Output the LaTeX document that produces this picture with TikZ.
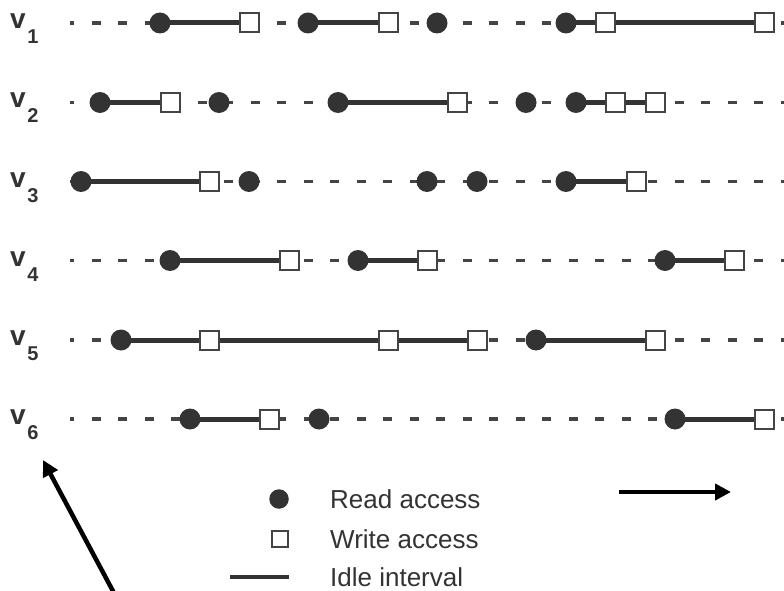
\documentclass[tikz,border=0pt]{standalone}
\usepackage{fontspec}
\setmainfont{Liberation Sans}
\usetikzlibrary{arrows.meta,backgrounds}
\definecolor{ink}{HTML}{333333}
\definecolor{rule}{HTML}{444444}
% variable name with a large, lowered index
\newcommand{\varname}[1]{{\fontsize{28}{28}\selectfont\bfseries v}\kern1.5pt\raisebox{-15pt}{\fontsize{20}{20}\selectfont\bfseries #1}}

\begin{document}
\begin{tikzpicture}[x=1pt,y=-1pt,
  rd/.style={circle,fill=ink,inner sep=0pt,minimum size=21pt},
  wr/.style={rectangle,draw=rule,line width=2pt,fill=white,inner sep=0pt,minimum size=19pt},
  idle/.style={draw=ink,line width=5pt},
  timeline/.style={draw=rule,line width=3.2pt,dash pattern=on 9pt off 17.5pt,dash phase=4.7pt},
  varlabel/.style={anchor=base west,inner sep=0pt,text=ink},
  legtext/.style={anchor=base west,inner sep=0pt,text=ink,font=\fontsize{26}{26}\selectfont},
  bigarrow/.style={draw=black,line width=4.5pt,-{Triangle[length=16pt,width=16pt]}}
]
\useasboundingbox (0,0) rectangle (784,591);

% ---- row labels
\node[varlabel] (v1) at (10,28.5)  {\varname{1}};
\node[varlabel] (v2) at (10,108)   {\varname{2}};
\node[varlabel] (v3) at (10,187)   {\varname{3}};
\node[varlabel] (v4) at (10,266)   {\varname{4}};
\node[varlabel] (v5) at (10,345.5) {\varname{5}};
\node[varlabel] (v6) at (10,424.5) {\varname{6}};

% ---- row v1
\coordinate (a0) at (70,23); \coordinate (a9) at (784,23);
\node[rd] (a1) at (160,23) {};
\node[wr] (a2) at (249,23) {};
\node[rd] (a3) at (308,23) {};
\node[wr] (a4) at (388,23) {};
\node[rd] (a5) at (437,23) {};
\node[rd] (a6) at (566,23) {};
\node[wr] (a7) at (605,23) {};
\node[wr] (a8) at (764,23) {};

% ---- row v2
\coordinate (b0) at (70,102.5); \coordinate (b10) at (784,102.5);
\node[rd] (b1) at (100,102.5) {};
\node[wr] (b2) at (170,102.5) {};
\node[rd] (b3) at (219,102.5) {};
\node[rd] (b4) at (338,102.5) {};
\node[wr] (b5) at (457,102.5) {};
\node[rd] (b6) at (526,102.5) {};
\node[rd] (b7) at (576,102.5) {};
\node[wr] (b8) at (615,102.5) {};
\node[wr] (b9) at (655,102.5) {};

% ---- row v3
\coordinate (c0) at (70,181.5); \coordinate (c8) at (784,181.5);
\node[rd] (c1) at (81,181.5) {};
\node[wr] (c2) at (209,181.5) {};
\node[rd] (c3) at (249,181.5) {};
\node[rd] (c4) at (427,181.5) {};
\node[rd] (c5) at (477,181.5) {};
\node[rd] (c6) at (566,181.5) {};
\node[wr] (c7) at (636,181.5) {};

% ---- row v4
\coordinate (d0) at (70,260.5); \coordinate (d7) at (784,260.5);
\node[rd] (d1) at (170,260.5) {};
\node[wr] (d2) at (289,260.5) {};
\node[rd] (d3) at (358,260.5) {};
\node[wr] (d4) at (427,260.5) {};
\node[rd] (d5) at (665,260.5) {};
\node[wr] (d6) at (734,260.5) {};

% ---- row v5
\coordinate (e0) at (70,340); \coordinate (e7) at (784,340);
\node[rd] (e1) at (121,340) {};
\node[wr] (e2) at (209,340) {};
\node[wr] (e3) at (388,340) {};
\node[wr] (e4) at (477,340) {};
\node[rd] (e5) at (536,340) {};
\node[wr] (e6) at (655,340) {};

% ---- row v6
\coordinate (f0) at (70,419); \coordinate (f6) at (784,419);
\node[rd] (f1) at (190,419) {};
\node[wr] (f2) at (269,419) {};
\node[rd] (f3) at (319,419) {};
\node[rd] (f4) at (675,419) {};
\node[wr] (f5) at (764,419) {};

% ---- time lines and idle intervals behind the accesses
\begin{pgfonlayer}{background}
  \foreach \s/\e in {a0/a9,b0/b10,c0/c8,d0/d7,e0/e7,f0/f6}
    \draw[timeline] (\s) -- (\e);
  \foreach \s/\e in {a1/a2,a3/a4,a6/a7,a7/a8,
                     b1/b2,b4/b5,b7/b8,b8/b9,
                     c1/c2,c6/c7,
                     d1/d2,d3/d4,d5/d6,
                     e1/e2,e2/e3,e3/e4,e5/e6,
                     f1/f2,f4/f5}
    \draw[idle] (\s.center) -- (\e.center);
\end{pgfonlayer}

% ---- legend
\node[rd,minimum size=19.5pt] (kr) at (279,499) {};
\node[legtext] (tr) at (330,508) {Read access};
\node[wr,minimum size=16pt,line width=1.8pt] (kw) at (280,539) {};
\node[legtext] (tw) at (330,548) {Write access};
\coordinate (ki0) at (230,577); \coordinate (ki1) at (289,577);
\draw[idle,line width=4pt] (ki0) -- (ki1);
\node[legtext] (ti) at (330,586) {Idle interval};

% ---- arrows
\coordinate (p0) at (114,593); \coordinate (p1) at (43,460);
\draw[bigarrow] (p0) -- (p1);
\coordinate (q0) at (619,492); \coordinate (q1) at (731,492);
\draw[bigarrow] (q0) -- (q1);
\end{tikzpicture}
\end{document}
